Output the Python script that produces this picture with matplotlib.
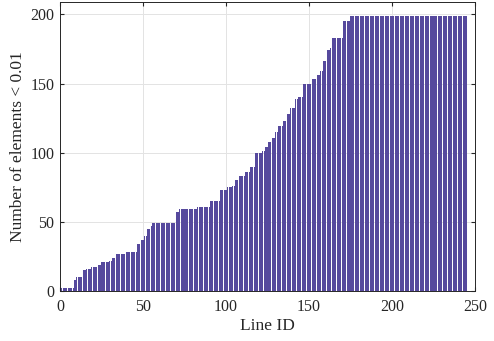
import numpy as np
import matplotlib
matplotlib.use("Agg")
import matplotlib.pyplot as plt

# Step levels and how many consecutive lines share each level
levels = [2, 8, 10, 15, 16, 17, 19, 21, 22, 24, 27, 28, 34, 37, 40, 45, 47, 49,
          57, 59, 61, 65, 73, 75, 76, 80, 83, 86, 90, 100, 101, 104, 108, 111,
          115, 119, 123, 128, 132, 139, 140, 150, 153, 156, 159, 166, 174, 176,
          183, 195, 199]
counts = [8, 1, 4, 2, 3, 4, 2, 5, 2, 2, 6, 7, 2, 2, 2, 2, 1, 14,
          2, 11, 8, 6, 4, 3, 2, 2, 4, 3, 3, 4, 2, 2, 2, 2,
          2, 3, 2, 2, 3, 2, 3, 5, 3, 2, 2, 2, 2, 1,
          7, 4, 71]
values = np.repeat(levels, counts)
line_ids = np.arange(1, len(values) + 1)

xticks = [0, 50, 100, 150, 200, 250]
yticks = [0, 50, 100, 150, 200]

plt.rcParams['font.family'] = ['Liberation Serif', 'DejaVu Serif']
fig = plt.figure(figsize=(4.94, 3.41), dpi=100)
ax = fig.add_axes([60/494, 50/341, 415/494, 289/341])
ax.bar(line_ids, values, width=0.8, color='#56499d', edgecolor='none', zorder=2)
ax.set_xlim(0, 250)
ax.set_ylim(0, 209)
ax.set_xticks(xticks)
ax.set_yticks(yticks)
ax.grid(True, color='#e3e3e3', linewidth=0.7, zorder=0)
ax.set_axisbelow(True)
ax.tick_params(direction='in', labelsize=11.5, length=3, top=True, right=True, colors='#262626')
ax.tick_params(axis='x', pad=6)
ax.tick_params(axis='y', pad=4)
for s in ax.spines.values():
    s.set_color('#262626')
    s.set_linewidth(0.7)
ax.set_xlabel('Line ID', fontsize=12.5, color='#262626', labelpad=2)
ax.set_ylabel('Number of elements < 0.01', fontsize=12.5, color='#262626', labelpad=3)
fig.savefig('out.png', dpi=100)
